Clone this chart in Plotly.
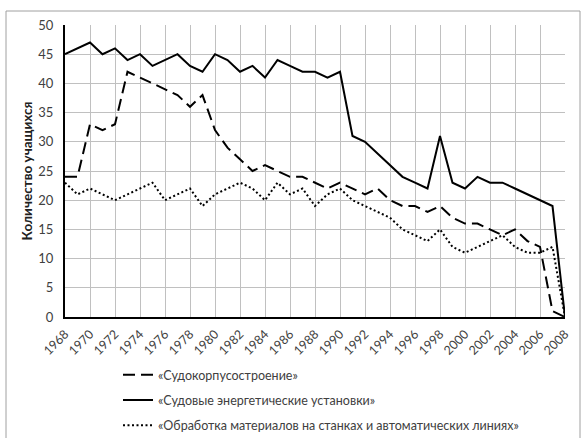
import plotly.graph_objects as go

years = list(range(1968, 2009))

hull = [24, 24, 33, 32, 33, 42, 41, 40, 39, 38, 36, 38, 32, 29, 27, 25, 26, 25, 24, 24,
        23, 22, 23, 22, 21, 22, 20, 19, 19, 18, 19, 17, 16, 16, 15, 14, 15, 13, 12, 1, 0]
power = [45, 46, 47, 45, 46, 44, 45, 43, 44, 45, 43, 42, 45, 44, 42, 43, 41, 44, 43, 42,
         42, 41, 42, 31, 30, 28, 26, 24, 23, 22, 31, 23, 22, 24, 23, 23, 22, 21, 20, 19, 0]
machining = [23, 21, 22, 21, 20, 21, 22, 23, 20, 21, 22, 19, 21, 22, 23, 22, 20, 23, 21, 22,
             19, 21, 22, 20, 19, 18, 17, 15, 14, 13, 15, 12, 11, 12, 13, 14, 12, 11, 11, 12, 0]

names = ["«Судокорпусостроение»",
         "«Судовые энергетические установки»",
         "«Обработка материалов на станках и автоматических линиях»"]

x_ticks = list(range(1968, 2009, 2))

font_family = "Lato, Roboto, 'Noto Sans', sans-serif"

fig = go.Figure()
fig.add_trace(go.Scatter(x=years, y=hull, mode="lines", name=names[0], legendgroup="a",
                         line=dict(color="black", width=2, dash="12px,6px")))
fig.add_trace(go.Scatter(x=years, y=power, mode="lines", name=names[1], legendgroup="b",
                         line=dict(color="black", width=2)))
fig.add_trace(go.Scatter(x=years, y=machining, mode="lines", name=names[2], legendgroup="c",
                         line=dict(color="black", width=2, dash="2px,2.5px")))

fig.update_layout(
    width=582, height=438,
    margin=dict(l=65, r=17, t=25, b=121, autoexpand=False),
    paper_bgcolor="white", plot_bgcolor="white",
    font=dict(family=font_family, size=12, color="#404040"),
    showlegend=True,
    legend=dict(orientation="v", x=0.106, xanchor="left", y=-0.148, yanchor="top",
                font=dict(size=12.5, color="#404040"), tracegroupgap=6,
                bgcolor="rgba(0,0,0,0)"),
    xaxis=dict(range=[1968, 2008], tickmode="array", tickvals=x_ticks,
               ticktext=[str(t) for t in x_ticks], tickangle=-45,
               showgrid=True, gridcolor="#c0c0c0", gridwidth=1,
               showline=True, linecolor="black", linewidth=2, ticklabelstandoff=3,
               ticks="", zeroline=False, tickfont=dict(size=12.5, color="#404040")),
    yaxis=dict(range=[0, 50], dtick=5, showgrid=True, gridcolor="#c0c0c0", gridwidth=1,
               showline=True, linecolor="black", linewidth=2, ticks="", zeroline=False,
               ticklabelstandoff=7,
               tickfont=dict(size=13, color="#404040"),
               title=dict(text="<b>Количество учащихся</b>", font=dict(size=13.5, color="#202020"),
                          standoff=3)),
)

# outer chart frame
fig.add_shape(type="rect", xref="paper", yref="paper",
              x0=(6 - 65) / 500, x1=(580 - 65) / 500,
              y0=(317 - 460) / 292, y1=(317 - 11) / 292,
              line=dict(color="#a0a0a0", width=1), layer="below")

fig.write_html("out.html", config={"displayModeBar": False},
               post_script="document.body.style.margin='0';document.body.style.overflow='hidden';")
